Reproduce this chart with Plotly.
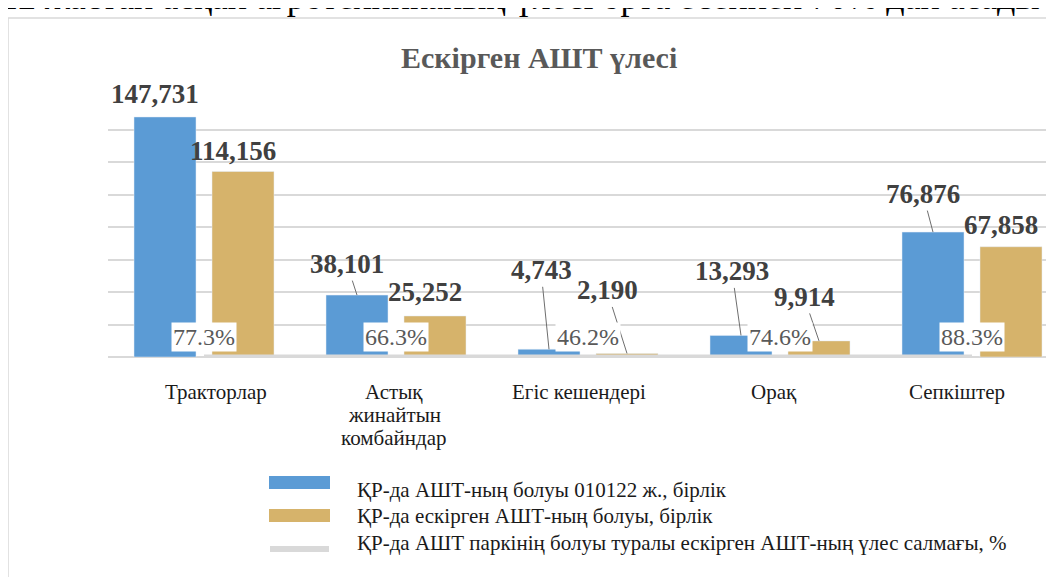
import plotly.graph_objects as go

categories = ["Тракторлар", "Астық<br>жинайтын<br>комбайндар", "Егіс кешендері", "Орақ", "Сепкіштер"]
total_units = [147731, 38101, 4743, 13293, 76876]
outdated_units = [114156, 25252, 2190, 9914, 67858]
outdated_share = [77.3, 66.3, 46.2, 74.6, 88.3]

name_total = "ҚР-да АШТ-ның болуы 010122 ж., бірлік"
name_outdated = "ҚР-да ескірген АШТ-ның болуы, бірлік"
name_share = "ҚР-да АШТ паркінің болуы туралы ескірген АШТ-ның үлес салмағы, %"
title = "Ескірген АШТ үлесі"
top_text = "12 жастан асқан агротехниканың үлесі орта есеппен 70% дан асады"

# label offsets (px) from bar top and whether a leader line is drawn
total_off = [(-10, -23, False), (-10, -31, True), (-8, -79, True), (-9, -64, True), (-10, -38, True)]
outdated_off = [(-10, -21, False), (-10, -24, False), (-20, -63, True), (-15, -44, True), (-10, -22, False)]
tick_shift = [12, -2, -9, -6, -15]

# page has an 8px body margin, so the figure is 8px smaller than the window
OFF = 8
W, H = 1054 - OFF, 577 - OFF
L, R, T, B = 108 - OFF, 0, 97 - OFF, 220
PW, PH = W - L - R, H - T - B

BLUE = "#5b9bd5"
GOLD = "#d6b36b"
SERIF = "Liberation Serif"


def px(x):
    # page pixel -> paper
    return (x - OFF - L) / PW


def py(y):
    return (H - B - (y - OFF)) / PH


fig = go.Figure()
fig.add_trace(go.Bar(x=categories, y=total_units, name=name_total,
                     marker_color=BLUE, showlegend=False))
fig.add_trace(go.Bar(x=categories, y=outdated_units, name=name_outdated,
                     marker_color=GOLD, showlegend=False))
fig.add_trace(go.Scatter(x=categories, y=[s / 100 for s in outdated_share], name=name_share,
                         mode="lines", line=dict(color="#d9d9d9", width=5),
                         showlegend=False))

ann = []
for vals, offs, shift in [(total_units, total_off, -39), (outdated_units, outdated_off, 39)]:
    for c, v, (dx, dy, lead) in zip(categories, vals, offs):
        a = dict(x=c, y=v, xref="x", yref="y", text=f"{v:,}",
                 font=dict(family=SERIF, size=27, color="#404040", weight="bold"))
        if lead:
            a.update(showarrow=True, arrowhead=0, arrowwidth=1, arrowcolor="#6e6e6e",
                     ax=dx, ay=dy, xshift=shift)
        else:
            a.update(showarrow=False, xshift=shift + dx, yshift=-dy)
        ann.append(a)

for c, s in zip(categories, outdated_share):
    ann.append(dict(x=c, y=s / 100, xref="x", yref="y", text=f"{s:.1f}%", showarrow=False,
                    yshift=20, bgcolor="white", borderpad=1,
                    font=dict(family=SERIF, size=24, color="#595959")))

# category labels, one line each for tighter line spacing
for c, sh in zip(categories, tick_shift):
    for k, line in enumerate(c.split("<br>")):
        ann.append(dict(x=c, y=py(392 + 23 * k), xref="x", yref="paper", text=line,
                        xshift=sh, xanchor="center", yanchor="middle", showarrow=False,
                        font=dict(family=SERIF, size=21, color="#1a1a1a")))

# legend drawn by hand (Excel style wide swatches)
shapes = [
    dict(type="rect", xref="paper", yref="paper", x0=px(8), x1=px(1200), y0=py(700), y1=py(18),
         line=dict(color="#d9d9d9", width=1.5), fillcolor="rgba(0,0,0,0)", layer="below"),
    dict(type="rect", xref="paper", yref="paper", x0=px(269), x1=px(330), y0=py(489), y1=py(476),
         line=dict(width=0), fillcolor=BLUE),
    dict(type="rect", xref="paper", yref="paper", x0=px(269), x1=px(330), y0=py(522), y1=py(509),
         line=dict(width=0), fillcolor=GOLD),
    dict(type="line", xref="paper", yref="paper", x0=px(270), x1=px(329), y0=py(549), y1=py(549),
         line=dict(color="#d9d9d9", width=6)),
]
for name, yc in [(name_total, 490), (name_outdated, 516), (name_share, 543)]:
    ann.append(dict(x=px(355), y=py(yc), xref="paper", yref="paper", text=name,
                    xanchor="left", yanchor="middle", showarrow=False,
                    font=dict(family=SERIF, size=21, color="#1a1a1a")))

ann.append(dict(x=px(-2), y=py(19), xref="paper", yref="paper", text=top_text,
                xanchor="left", yanchor="bottom", showarrow=False,
                font=dict(family=SERIF, size=36, color="black")))
ann.append(dict(x=px(539), y=py(57), xref="paper", yref="paper", text=title,
                xanchor="center", yanchor="middle", showarrow=False,
                font=dict(family=SERIF, size=30, color="#595959", weight="bold")))

fig.update_layout(
    width=W, height=H,
    margin=dict(l=L, r=R, t=T, b=B),
    paper_bgcolor="white", plot_bgcolor="white",
    barmode="group", bargap=0.1875, bargroupgap=0.205,
    annotations=ann, shapes=shapes,
    xaxis=dict(range=[-0.5, -0.5 + PW / 192], showgrid=False, showline=False,
               ticks="", showticklabels=False),
    yaxis=dict(range=[0, 160000], dtick=20000, showticklabels=False,
               gridcolor="#d9d9d9", gridwidth=1.5,
               zeroline=True, zerolinecolor="#d9d9d9", zerolinewidth=1.5),
)

fig.write_html("out.html")
